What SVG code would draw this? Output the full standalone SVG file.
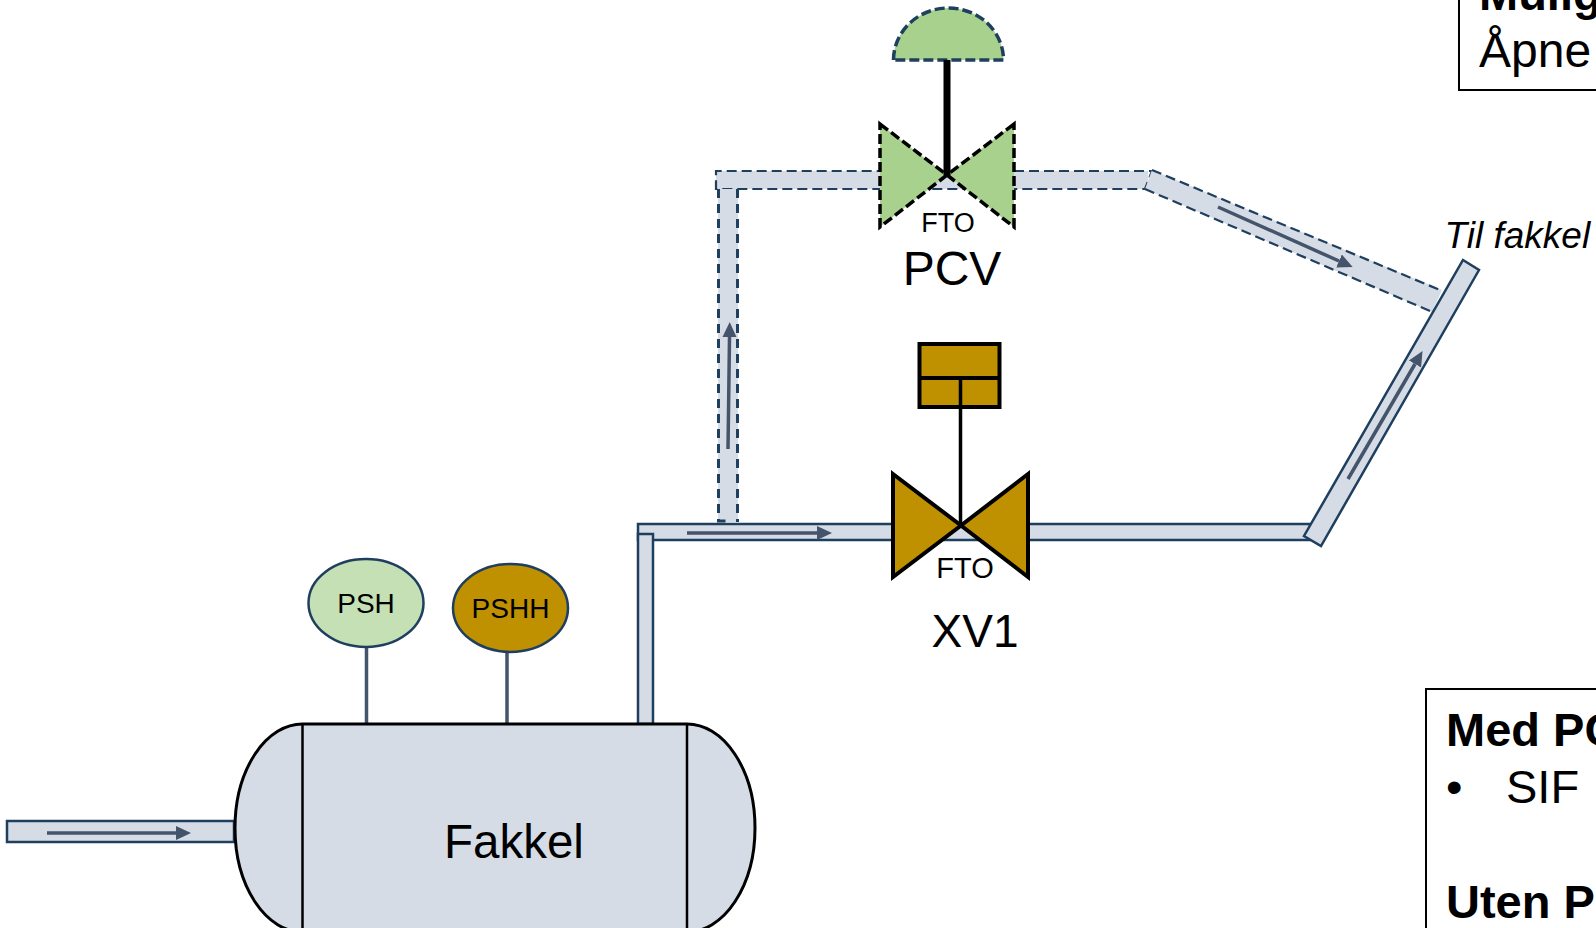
<svg xmlns="http://www.w3.org/2000/svg" width="1596" height="928" viewBox="0 0 1596 928">
<style>
text{font-family:"Liberation Sans",Arial,sans-serif;fill:#000}
.pipe{fill:#D6DCE5;stroke:#1F3F5F;stroke-width:2.5}
.dpipe{fill:#D6DCE5;stroke:none}
.dash{fill:none;stroke:#1F3F5F;stroke-width:2.2;stroke-dasharray:10 5}
.dashv{fill:none;stroke:#1F3F5F;stroke-width:3;stroke-dasharray:9 6}
.flow{fill:none;stroke:#44546A;stroke-width:3.5;marker-end:url(#head)}
.gold{fill:#BF9000;stroke:#000;stroke-width:4}
.green{fill:#A9D18E;stroke:#000;stroke-width:3.5;stroke-dasharray:10 4}
.box{fill:#fff;stroke:#000;stroke-width:2}
.b{font-size:47px;font-weight:bold}
.n{font-size:47px}
.s{font-size:28px}
.stem{stroke:#44546A;stroke-width:3.5;fill:none}
</style>
<defs>
<marker id="head" markerUnits="userSpaceOnUse" markerWidth="16" markerHeight="16" refX="0" refY="8" orient="auto"><path d="M0 1L15 8L0 15Z" fill="#44546A"/></marker>
</defs>
<g id="box-top"><rect class="box" x="1459" y="-20" width="160" height="110"/><text class="b" x="1479" y="10">Mulig</text><text class="n" x="1479" y="67" style="font-size:48px">Åpne</text></g>
<g id="box-bottom"><rect class="box" x="1426" y="689" width="190" height="260"/><text class="b" x="1446" y="746">Med PC</text><text class="n" x="1446" y="803">•</text><text class="n" x="1506" y="803">SIF</text><text class="b" x="1446" y="918">Uten P</text></g>
<g id="connectors">
<rect class="pipe" x="7" y="821" width="227" height="21"/>
<rect class="pipe" x="638" y="524" width="672" height="16"/>
<rect class="pipe" x="638" y="534" width="15" height="190"/>
<rect class="dpipe" x="716" y="171" width="432" height="18"/>
<path class="dash" d="M1014 171H1152L1145 189H716V171H879"/>
<path class="dpipe" d="M1152 170L1442 290L1432 312L1145 189Z"/>
<path class="dash" d="M1152 170L1440 290M1145 189L1430 311"/>
<rect class="dpipe" x="718" y="189" width="20" height="333"/>
<path class="dashv" d="M718.500 189V521H728M737.500 189V522"/>
<polygon class="pipe" points="1463,260 1479,270 1321,546 1304,536"/>
<path class="flow" d="M47 833H176"/>
<path class="flow" d="M687 533H817"/>
<path class="flow" d="M728 449L729.500 337"/>
<path class="flow" d="M1218 207L1339 261"/>
<path class="flow" d="M1348 479L1415 364"/>
<path class="stem" d="M366.500 647V724M507 649V725"/>
</g>
<g id="vessel">
<path d="M302.500 724H687A68 104 0 0 1 687 932H302.500A67.500 104 0 0 1 302.500 724Z" fill="#D6DCE5" stroke="#000" stroke-width="3"/>
<path d="M302.500 724V932M687 724V932" stroke="#000" stroke-width="2.500" fill="none"/>
<text class="n" x="444" y="858" style="font-size:47.500px">Fakkel</text>
</g>
<g id="psh"><ellipse cx="366" cy="603" rx="57.500" ry="44" fill="#C5E0B4" stroke="#1F3F5F" stroke-width="2.500"/><text class="s" x="366" y="613" text-anchor="middle">PSH</text></g>
<g id="pshh"><ellipse cx="510.500" cy="608" rx="57.500" ry="44" fill="#BF9000" stroke="#1F3F5F" stroke-width="2.500"/><text class="s" x="510.500" y="618" text-anchor="middle">PSHH</text></g>
<g id="pcv">
<path d="M893.500 60A55 52 0 0 1 1003.500 60Z" fill="#A9D18E" stroke="#1F3F5F" stroke-width="3.500" stroke-dasharray="10 4"/>
<path class="green" d="M880 124L947 175L880 227ZM1014 124L947 175L1014 227Z"/>
<path d="M947 60V175" stroke="#000" stroke-width="7"/>
<text x="948" y="232" font-size="27" text-anchor="middle">FTO</text>
<text class="n" x="952" y="285" text-anchor="middle" style="font-size:48px">PCV</text>
</g>
<g id="xv1">
<path class="gold" d="M893 474L961 525.500L893 577ZM1028 474L961 525.500L1028 577Z"/>
<rect class="gold" x="919.500" y="344" width="80" height="63"/>
<path d="M918 378H1001" stroke="#000" stroke-width="4"/>
<path d="M960.500 378V525" stroke="#000" stroke-width="3.500"/>
<text x="965" y="578" font-size="29" text-anchor="middle">FTO</text>
<text class="n" x="975" y="647" text-anchor="middle" style="font-size:46px">XV1</text>
</g>
<g id="label"><text x="1444.500" y="248" font-size="37" font-style="italic">Til fakkel</text></g>
</svg>
